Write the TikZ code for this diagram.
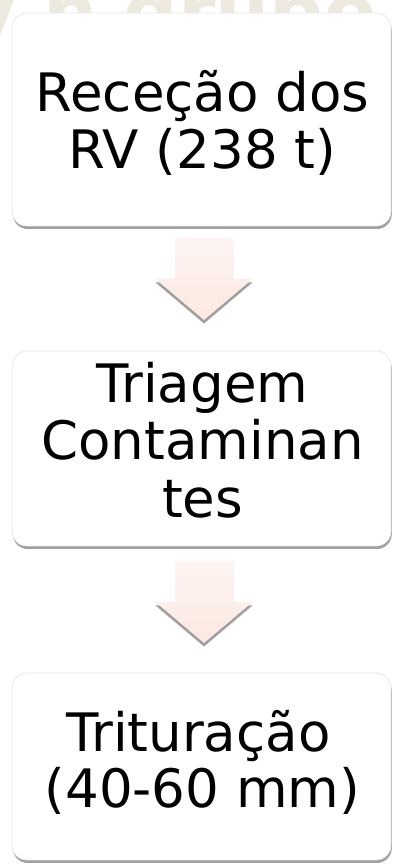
\documentclass[tikz,border=0pt]{standalone}
\usepackage{fontspec}
\setmainfont{DejaVu Sans}
\usetikzlibrary{shadows}
\definecolor{wmcol}{HTML}{EDE9DE}
\definecolor{arrtop}{HTML}{FDF4F1}
\definecolor{arrbot}{HTML}{FCE8E1}
\definecolor{shcol}{HTML}{A0A0A0}
\tikzset{
  box/.style={draw=black!9, line width=0.8pt, fill=white, rounded corners=15pt,
    minimum width=379pt, inner sep=0pt,
    drop shadow={shadow xshift=0.8pt, shadow yshift=-3pt, opacity=1, fill=shcol}},
  lbl/.style={font=\fontsize{53}{57.5}\selectfont, inner sep=0pt, anchor=base},
  blockarrow/.style={top color=arrtop, bottom color=arrbot, draw=none,
    drop shadow={shadow xshift=0pt, shadow yshift=-3.5pt, opacity=1, fill=shcol}},
  watermark/.style={text=wmcol, font=\bfseries\fontsize{76}{76}\selectfont, inner sep=0pt}
}
\begin{document}
\begin{tikzpicture}[x=1pt,y=1pt]
\useasboundingbox (0,0) rectangle (392,865);
\clip (0,0) rectangle (392,865);
\fill[white] (0,0) rectangle (392,865);
\node[watermark, anchor=base west] (wm) at (-33,826) {y n grupo};
% boxes
\node[box, minimum height=213pt] (b1) at (201.5,745.5) {};
\node[box, minimum height=195pt] (b2) at (201.5,416.5) {};
\node[box, minimum height=187pt] (b3) at (201.5,98.5) {};
% texts
\node[lbl] (t1a) at (202.5,753) {Receção dos};
\node[lbl] (t1b) at (202.5,696) {RV (238 t)};
\node[lbl] (t2a) at (202.5,462) {Triagem};
\node[lbl] (t2b) at (202.5,405) {Contaminan};
\node[lbl] (t2c) at (202.5,347) {tes};
\node[lbl] (t3a) at (198.5,113) {Trituração};
\node[lbl] (t3b) at (202.5,57) {(40-60 mm)};
% block arrows
\coordinate (c1) at (204,586);
\coordinate (c2) at (204,263);
\foreach \c in {c1,c2}{
  \path[blockarrow, shift={(\c)}] (-29,41) -- (-29,0) -- (-48.5,0) -- (0,-41)
    -- (48.5,0) -- (29,0) -- (29,41) -- cycle;
}
\end{tikzpicture}
\end{document}
